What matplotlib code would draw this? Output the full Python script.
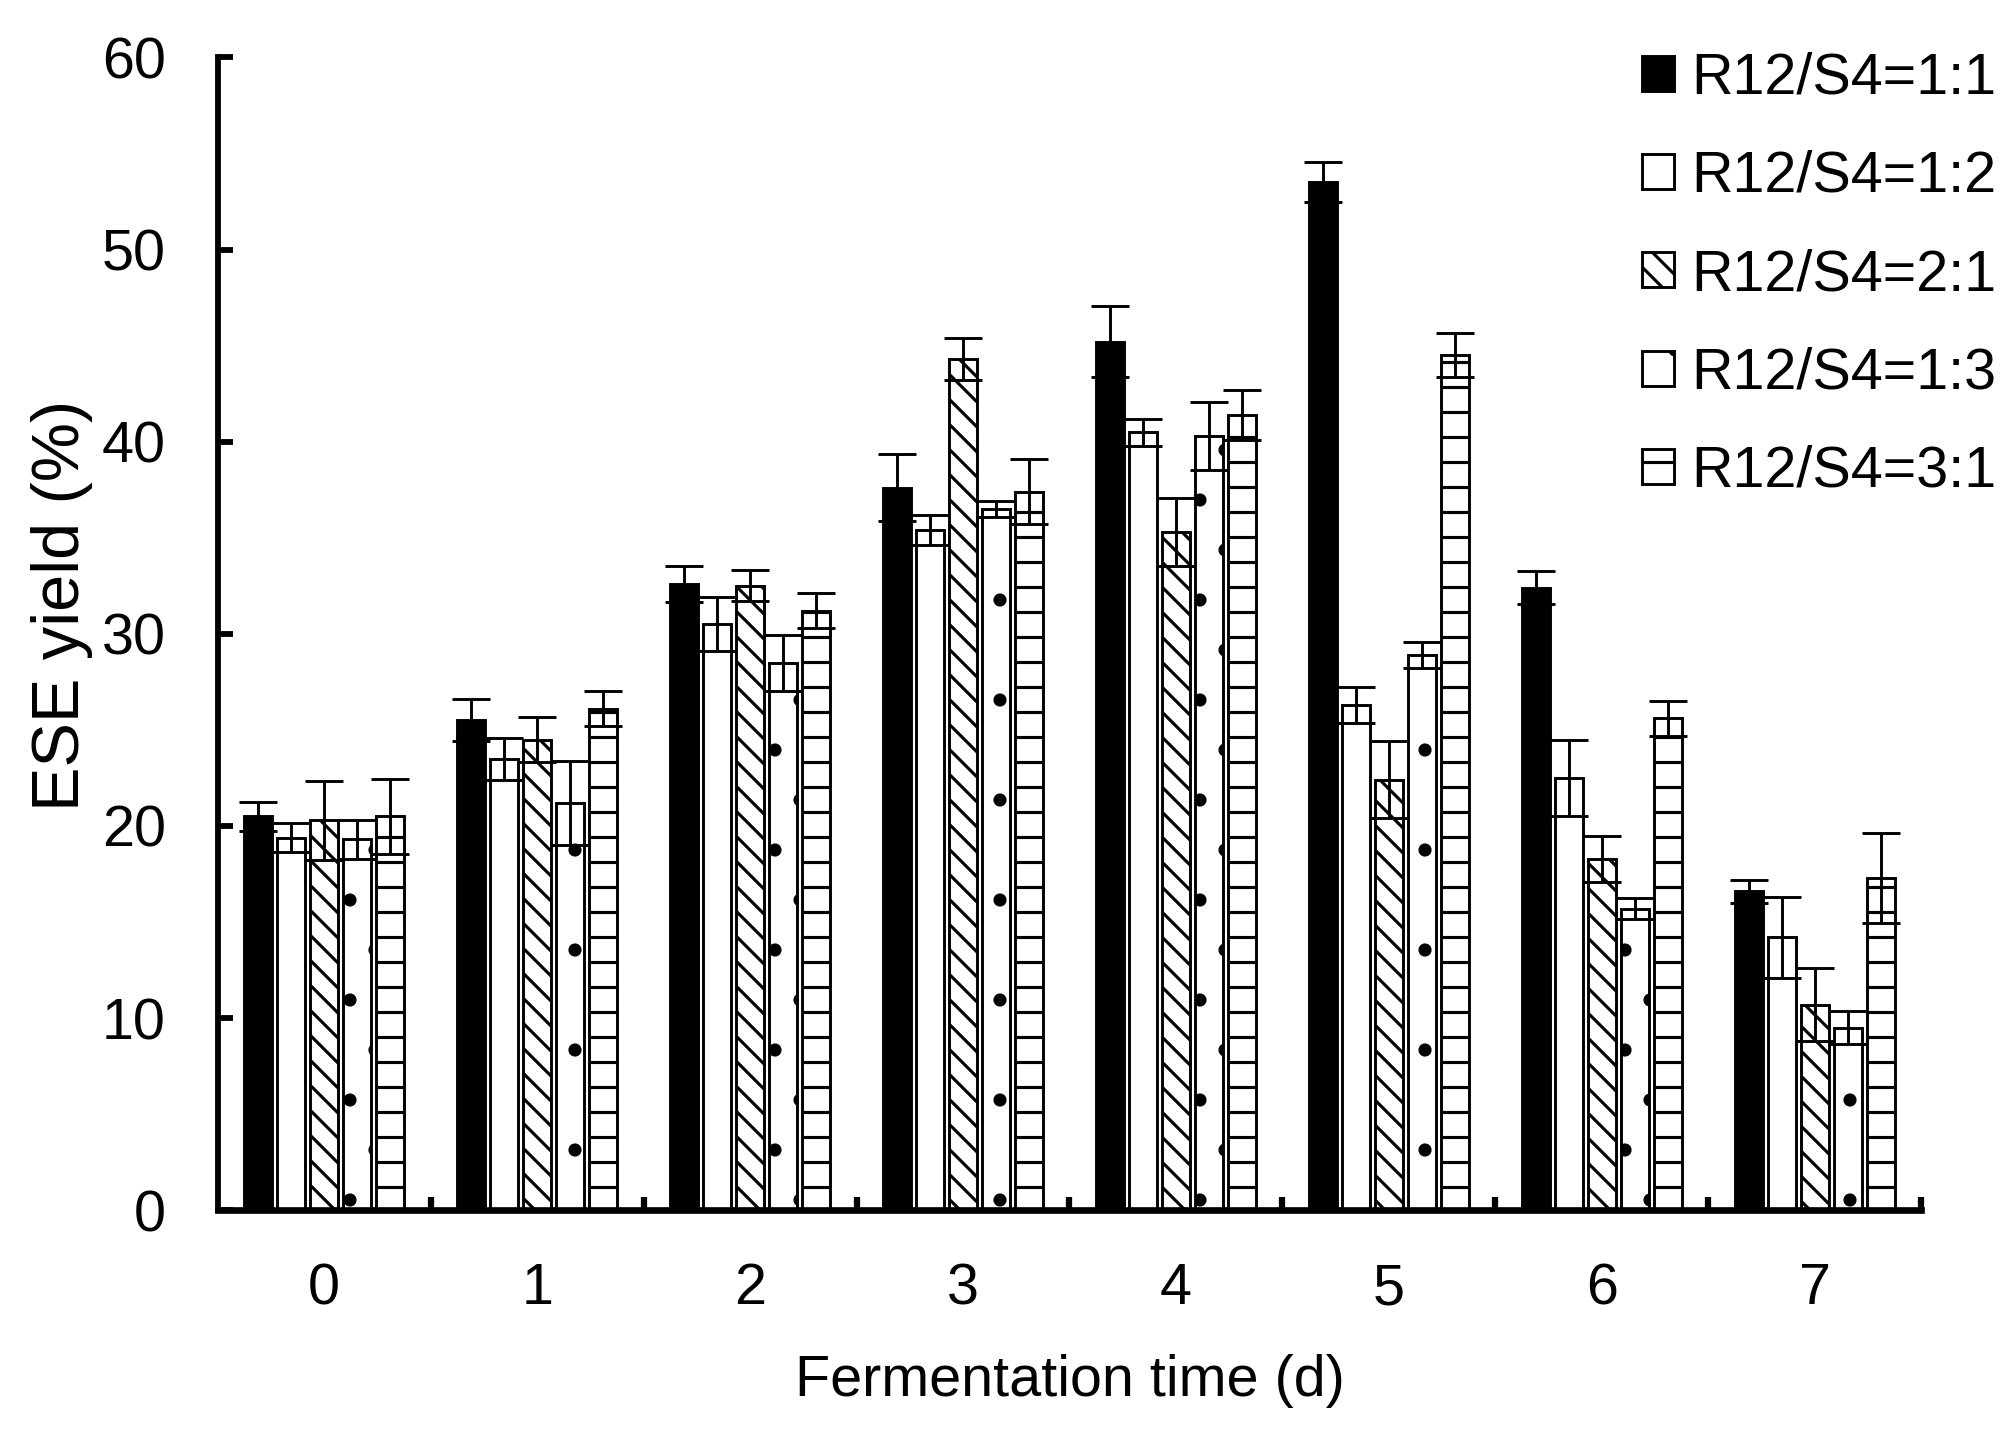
import numpy as np
import matplotlib
matplotlib.use("Agg")
import matplotlib.pyplot as plt

plt.rcParams['font.family'] = ['Liberation Sans', 'DejaVu Sans']
plt.rcParams['hatch.linewidth'] = 0.75

# data
days = [0, 1, 2, 3, 4, 5, 6, 7]
labels = ['R12/S4=1:1', 'R12/S4=1:2', 'R12/S4=2:1', 'R12/S4=1:3', 'R12/S4=3:1']

r11 = [20.5, 25.5, 32.6, 37.6, 45.2, 53.5, 32.4, 16.6]
r11_err = [0.75, 1.1, 0.95, 1.75, 1.85, 1.05, 0.85, 0.6]
r12 = [19.4, 23.5, 30.5, 35.4, 40.5, 26.3, 22.5, 14.2]
r12_err = [0.75, 1.1, 1.4, 0.8, 0.7, 0.95, 2.0, 2.1]
r21 = [20.3, 24.5, 32.5, 44.3, 35.3, 22.4, 18.3, 10.7]
r21_err = [2.05, 1.15, 0.8, 1.1, 1.75, 2.0, 1.2, 1.9]
r13 = [19.3, 21.2, 28.5, 36.5, 40.3, 28.9, 15.7, 9.5]
r13_err = [1.0, 2.2, 1.45, 0.4, 1.75, 0.7, 0.55, 0.85]
r31 = [20.5, 26.1, 31.2, 37.4, 41.4, 44.5, 25.6, 17.3]
r31_err = [1.95, 0.9, 0.9, 1.7, 1.3, 1.15, 0.9, 2.35]

series = [r11, r12, r21, r13, r31]
errors = [r11_err, r12_err, r21_err, r13_err, r31_err]
fills = ['black', 'white', 'white', 'white', 'white']
hatches = [None, None, '\\\\\\\\', '.', '--']

fig = plt.figure(figsize=(6.72, 4.78), dpi=300)
ax = fig.add_axes([0.108, 0.156, 0.845, 0.804])

x = np.arange(len(days))
w = 0.13
step = 0.155
for i in range(5):
    ax.bar(x + (i - 2) * step, series[i], w, yerr=errors[i],
           color=fills[i], edgecolor='black', linewidth=0.7, hatch=hatches[i],
           label=labels[i],
           error_kw=dict(ecolor='black', elinewidth=0.7, capsize=4.5, capthick=0.7))

ax.set_xlim(-0.5, 7.5)
ax.set_ylim(0, 60)
ax.set_yticks(np.arange(0, 61, 10))
ax.set_xticks(x)
ax.set_xticklabels([str(d) for d in days])
ax.set_xticks(np.arange(0.5, 7.6, 1), minor=True)

for s in ['top', 'right']:
    ax.spines[s].set_visible(False)
ax.spines['left'].set_linewidth(1.4)
ax.spines['bottom'].set_linewidth(1.6)

fs = 13.8
ax.tick_params(axis='y', direction='in', length=3.6, width=1.4, pad=12.5, labelsize=fs)
ax.tick_params(axis='x', which='major', length=0, pad=12.5, labelsize=fs)
ax.tick_params(axis='x', which='minor', direction='in', length=3.1, width=1.5)

ax.set_xlabel('Fermentation time (d)', fontsize=fs, labelpad=9)
ax.set_ylabel('ESE yield (%)', fontsize=16)
ax.yaxis.set_label_coords(-0.073, 0.525)

ax.legend(loc='upper left', bbox_to_anchor=(0.8145, 0.964), bbox_transform=fig.transFigure,
          frameon=False, fontsize=fs, handlelength=0.56, handleheight=0.56,
          handletextpad=0.3, labelspacing=0.77, borderpad=0, borderaxespad=0)

fig.savefig('out.png', dpi=300)
